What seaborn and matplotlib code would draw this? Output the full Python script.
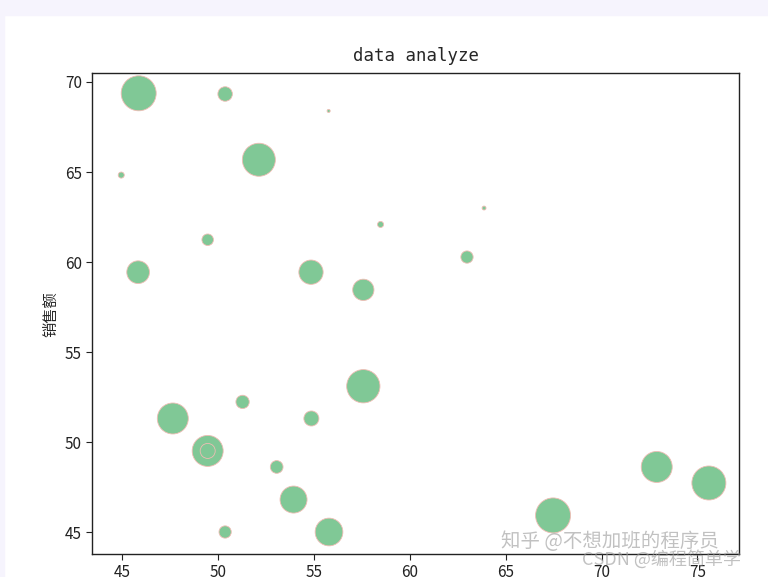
import numpy as np
import pandas as pd
import matplotlib
matplotlib.use('Agg')
import matplotlib.pyplot as plt
import seaborn as sns

# values
price = [45.85, 50.36, 55.76, 52.12, 44.94, 58.47, 63.87, 49.45, 62.98, 45.82,
         54.84, 57.57, 57.57, 51.27, 47.63, 54.86, 49.45, 53.05, 53.93, 50.36,
         55.78, 67.47, 72.88, 75.60, 49.45]
sales = [69.37, 69.33, 68.39, 65.68, 64.83, 62.09, 63.00, 61.24, 60.28, 59.44,
         59.44, 58.46, 53.11, 52.24, 51.32, 51.32, 49.52, 48.63, 46.82, 45.02,
         45.02, 45.94, 48.63, 47.74, 49.52]
volume = [635, 109, 5, 565, 19, 19, 8, 69, 78, 267,
          306, 235, 575, 92, 498, 117, 498, 84, 378, 78,
          398, 635, 498, 600, 117]


def plot_bubbles(df):
    sns.set_style('ticks')
    plt.rcParams['font.family'] = ['Noto Sans CJK SC', 'DejaVu Sans']
    plt.rcParams['axes.unicode_minus'] = False

    fig = plt.figure(figsize=(7.68, 5.77), dpi=100)
    # screenshot border
    fig.patches.append(plt.Rectangle((0, 1 - 15 / 577), 1, 15 / 577,
                                     transform=fig.transFigure, color='#f6f4fd', zorder=0))
    fig.patches.append(plt.Rectangle((0, 0), 4 / 768, 1,
                                     transform=fig.transFigure, color='#f6f4fd', zorder=0))
    ax = fig.add_axes([0.1202, 0.0399, 0.8420, 0.8331])

    sns.scatterplot(data=df, x='price', y='sales', s=df['volume'].to_numpy(),
                    color='#80c896', edgecolor='#efbcb4', linewidth=0.6,
                    legend=False, ax=ax)

    ax.set_xlim(43.43, 77.17)
    ax.set_ylim(43.8, 70.48)
    ax.set_xticks([45, 50, 55, 60, 65, 70, 75])
    ax.set_yticks([45, 50, 55, 60, 65, 70])
    ax.tick_params(labelsize=11, colors='#222222', length=4)
    for sp in ax.spines.values():
        sp.set_color('#222222')
        sp.set_linewidth(1.0)
    ax.set_title('data analyze', fontsize=12.5, family=['DejaVu Sans Mono'], pad=9)
    ax.set_xlabel('')
    ax.set_ylabel('销售额', fontsize=11)

    # watermarks of the screenshot
    fig.text(0.652, 0.052, '知乎 @不想加班的程序员', fontsize=14, color='#999999', alpha=0.6)
    fig.text(0.758, 0.022, 'CSDN @编程简单学', fontsize=13, color='#999999', alpha=0.6)

    fig.savefig('out.png', dpi=100)


def main():
    df = pd.DataFrame({'price': price, 'sales': sales, 'volume': volume})
    plot_bubbles(df)


if __name__ == "__main__":
    main()
